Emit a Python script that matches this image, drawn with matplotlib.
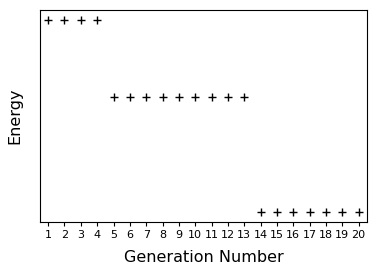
import matplotlib
matplotlib.use('Agg')
import matplotlib.pyplot as plt

# Energy per generation
generations = list(range(1, 21))
energy = [-8]*4 + [-12]*9 + [-18]*7

fig = plt.figure(figsize=(3.77, 2.71), dpi=100)
ax = fig.add_axes([0.106, 0.181, 0.867, 0.782])
ax.scatter(generations, energy, marker='+', color='black', s=30, linewidths=1)
ax.set_xticks(generations)
ax.tick_params(axis='x', labelsize=8, length=3, pad=3)
ax.set_yticks([])
ax.set_xlabel('Generation Number', fontsize=11.5, labelpad=7)
ax.set_ylabel('Energy', fontsize=11.5, labelpad=13)
ax.set_xlim(0.5, 20.5)
fig.savefig('out.png', dpi=100)
